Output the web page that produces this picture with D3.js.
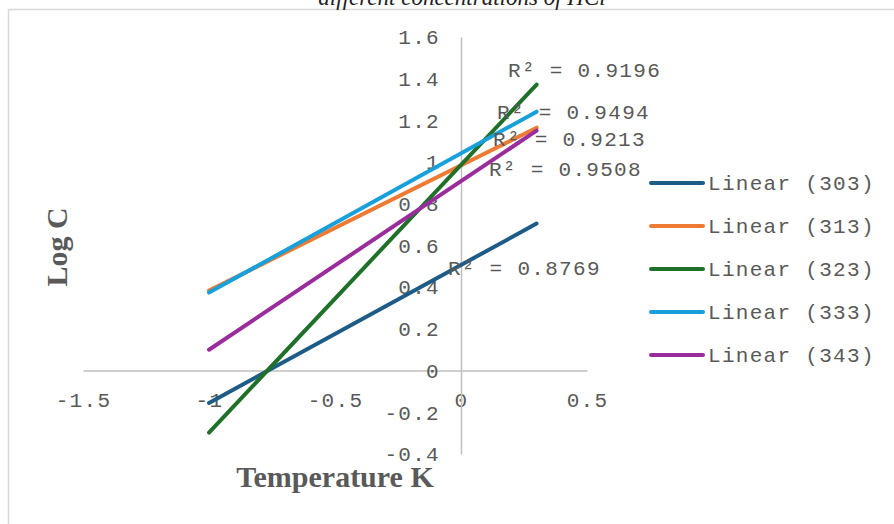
<!DOCTYPE html>
<html lang="en">
<head>
  <meta charset="UTF-8">
  <title>Log C vs Temperature K</title>
  <script src="https://d3js.org/d3.v7.min.js"></script>
  <style>
    body { margin: 0; background: #fff; }
    .mono { font-family: "Liberation Mono", "Courier New", monospace; font-size: 21px; letter-spacing: 1.3px; fill: #595959; }
    .axis-title { font-family: "Liberation Serif", "Times New Roman", serif; font-weight: bold; font-size: 30px; fill: #595959; }
  </style>
</head>
<body>
  <svg id="chart" width="894" height="524"></svg>
  <script>
    // Chart data
    const seriesNames = ["303", "313", "323", "333", "343"];
    const seriesColors = ["#1d5c87", "#ee7b33", "#1f7029", "#18a0da", "#9b2c9c"];
    const fitX = [-1, 0.3];
    const fitStart = [-0.155, 0.384, -0.297, 0.374, 0.100];
    const fitEnd = [0.705, 1.165, 1.372, 1.242, 1.151];
    const r2Values = ["0.8769", "0.9213", "0.9196", "0.9494", "0.9508"];
    const r2LabelX = [-0.052, 0.127, 0.187, 0.143, 0.111];
    const r2LabelY = [0.496, 1.113, 1.444, 1.240, 0.969];
    const xTicks = [-1.5, -1, -0.5, 0, 0.5];
    const yTicks = [1.6, 1.4, 1.2, 1, 0.8, 0.6, 0.4, 0.2, 0, -0.2, -0.4];

    const svg = d3.select("#chart");

    // chart frame
    svg.append("rect")
      .attr("x", 8.5).attr("y", 9.5)
      .attr("width", 900).attr("height", 600)
      .attr("fill", "none").attr("stroke", "#d9d9d9").attr("stroke-width", 1.5);

    // title (cut off at the top edge)
    svg.append("text")
      .attr("x", 462).attr("y", 5)
      .attr("text-anchor", "middle")
      .style("font-family", "'Liberation Serif', 'Times New Roman', serif")
      .style("font-style", "italic")
      .style("font-size", "23px")
      .style("fill", "#222")
      .text("different concentrations of HCl");

    const x = d3.scaleLinear().domain([-1.5, 0.5]).range([83, 587]);
    const y = d3.scaleLinear().domain([-0.4, 1.6]).range([454, 37]);
    const fmt = d => String(d);

    // x axis sits on y = 0
    const gx = svg.append("g")
      .attr("transform", `translate(0,${y(0)})`)
      .call(d3.axisBottom(x).tickValues(xTicks).tickFormat(fmt).tickSize(0).tickSizeOuter(0));
    gx.select(".domain").attr("stroke", "#bfbfbf").attr("stroke-width", 1.5);
    gx.selectAll("text").attr("class", "mono").attr("y", 29).attr("dy", "0.35em").attr("font-size", null).attr("font-family", null);

    // y axis sits on x = 0
    const gy = svg.append("g")
      .attr("transform", `translate(${x(0)},0)`)
      .call(d3.axisLeft(y).tickValues(yTicks).tickFormat(fmt).tickSize(0).tickSizeOuter(0).tickPadding(21));
    gy.select(".domain").attr("stroke", "#bfbfbf").attr("stroke-width", 1.5);
    gy.selectAll("text").attr("class", "mono").attr("font-size", null).attr("font-family", null);

    // linear trendlines
    const line = d3.line().x(d => x(d[0])).y(d => y(d[1]));
    seriesNames.forEach((name, i) => {
      svg.append("path")
        .datum([[fitX[0], fitStart[i]], [fitX[1], fitEnd[i]]])
        .attr("d", line)
        .attr("fill", "none")
        .attr("stroke", seriesColors[i])
        .attr("stroke-width", 4)
        .attr("stroke-linecap", "round");
    });

    // R² labels
    seriesNames.forEach((name, i) => {
      svg.append("text")
        .attr("class", "mono")
        .attr("x", x(r2LabelX[i]))
        .attr("y", y(r2LabelY[i]))
        .attr("dy", "0.35em")
        .text(`R² = ${r2Values[i]}`);
    });

    // legend
    const legend = svg.append("g").attr("transform", "translate(651,183)");
    seriesNames.forEach((name, i) => {
      const row = legend.append("g").attr("transform", `translate(0,${i * 43})`);
      row.append("line")
        .attr("x1", 0).attr("x2", 52)
        .attr("stroke", seriesColors[i]).attr("stroke-width", 4)
        .attr("stroke-linecap", "round");
      row.append("text")
        .attr("class", "mono")
        .attr("x", 57).attr("dy", "0.35em")
        .text(`Linear (${name})`);
    });

    // axis titles
    svg.append("text")
      .attr("class", "axis-title")
      .attr("x", 335).attr("y", 487)
      .attr("text-anchor", "middle")
      .text("Temperature K");

    svg.append("text")
      .attr("class", "axis-title")
      .attr("transform", "translate(67,247) rotate(-90)")
      .attr("text-anchor", "middle")
      .text("Log C");
  </script>
</body>
</html>
